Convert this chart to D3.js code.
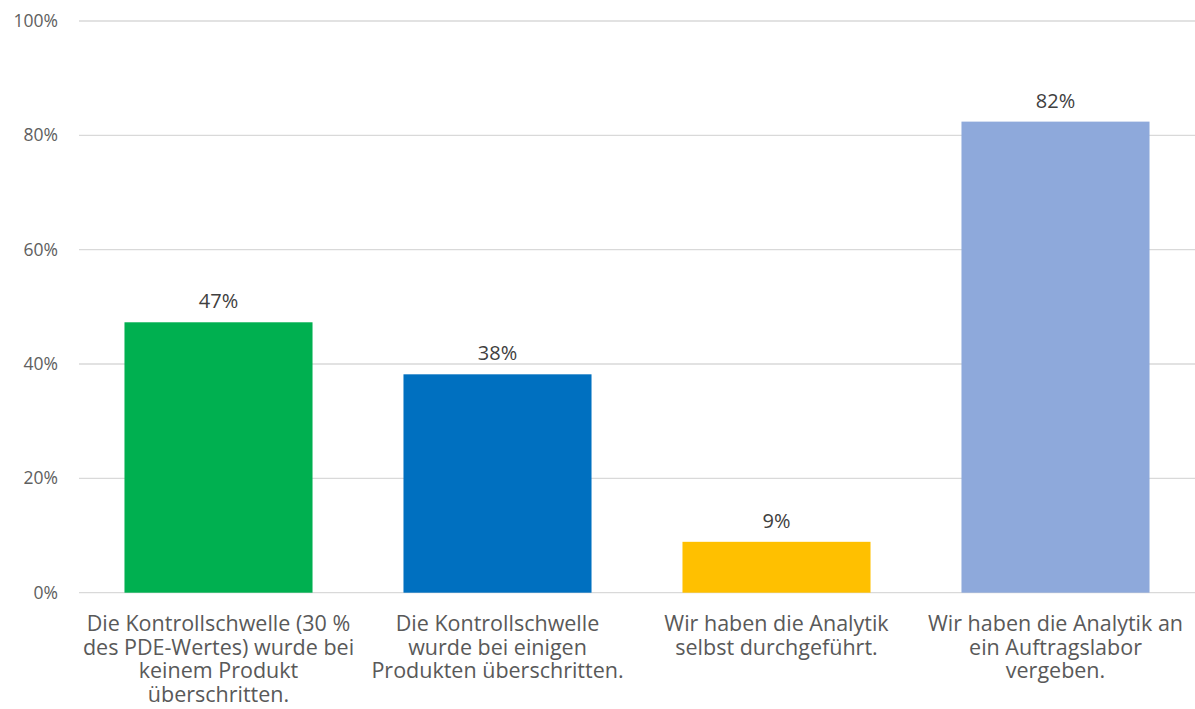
<!DOCTYPE html>
<html>
<head>
<meta charset="utf-8">
<script src="https://cdn.jsdelivr.net/npm/d3@7"></script>
<style>
  html, body { margin: 0; padding: 0; background: #fff; }
  svg { display: block; font-family: "Open Sans", "Noto Sans", sans-serif; }
</style>
</head>
<body>
<svg id="chart" width="1195" height="709"></svg>
<script>
// Survey answers on cleaning validation thresholds and analytics
const categories = [
  ["Die Kontrollschwelle (30 %", "des PDE-Wertes) wurde bei", "keinem Produkt", "überschritten."],
  ["Die Kontrollschwelle", "wurde bei einigen", "Produkten überschritten."],
  ["Wir haben die Analytik", "selbst durchgeführt."],
  ["Wir haben die Analytik an", "ein Auftragslabor", "vergeben."]
];
const shares = [0.473, 0.382, 0.089, 0.824];
const barColors = ["#00B050", "#0070C0", "#FFC000", "#8EA9DB"];
const yTicks = [0, 0.2, 0.4, 0.6, 0.8, 1.0];

const svg = d3.select("#chart");
const plot = { left: 79, right: 1195, top: 21, bottom: 592.7 };

const x = d3.scaleBand()
  .domain(d3.range(categories.length))
  .range([plot.left, plot.right])
  .paddingInner(0.326)
  .paddingOuter(0.163);

const y = d3.scaleLinear().domain([0, 1]).range([plot.bottom, plot.top]);
const pct = d3.format(".0%");

// horizontal gridlines
svg.append("g")
  .selectAll("line")
  .data(yTicks)
  .join("line")
  .attr("x1", plot.left)
  .attr("x2", plot.right)
  .attr("y1", d => y(d))
  .attr("y2", d => y(d))
  .attr("stroke", "#d9d9d9")
  .attr("stroke-width", 1.3);

// y axis labels
const yAxis = svg.append("g")
  .attr("transform", `translate(${plot.left - 21},0)`)
  .call(d3.axisLeft(y).tickValues(yTicks).tickFormat(pct).tickSize(0).tickPadding(0));
yAxis.select(".domain").remove();
yAxis.selectAll("text")
  .attr("font-family", "'Open Sans', sans-serif")
  .attr("font-size", 17.5)
  .attr("fill", "#606060");

// bars
svg.append("g")
  .selectAll("rect")
  .data(shares)
  .join("rect")
  .attr("x", (d, i) => x(i))
  .attr("width", x.bandwidth())
  .attr("y", d => y(d))
  .attr("height", d => y(0) - y(d))
  .attr("fill", (d, i) => barColors[i]);

// value labels
svg.append("g")
  .selectAll("text")
  .data(shares)
  .join("text")
  .attr("x", (d, i) => x(i) + x.bandwidth() / 2)
  .attr("y", d => y(d) - 14)
  .attr("text-anchor", "middle")
  .attr("font-size", 20)
  .attr("fill", "#404040")
  .text(d => pct(d));

// category labels, one text element per line
const lineGap = 23.6;
svg.append("g")
  .selectAll("g")
  .data(categories)
  .join("g")
  .attr("transform", (d, i) => `translate(${x(i) + x.bandwidth() / 2},631)`)
  .selectAll("text")
  .data(d => d)
  .join("text")
  .attr("y", (d, i) => i * lineGap)
  .attr("text-anchor", "middle")
  .attr("font-size", 21.5)
  .attr("fill", "#595959")
  .text(d => d);
</script>
</body>
</html>
